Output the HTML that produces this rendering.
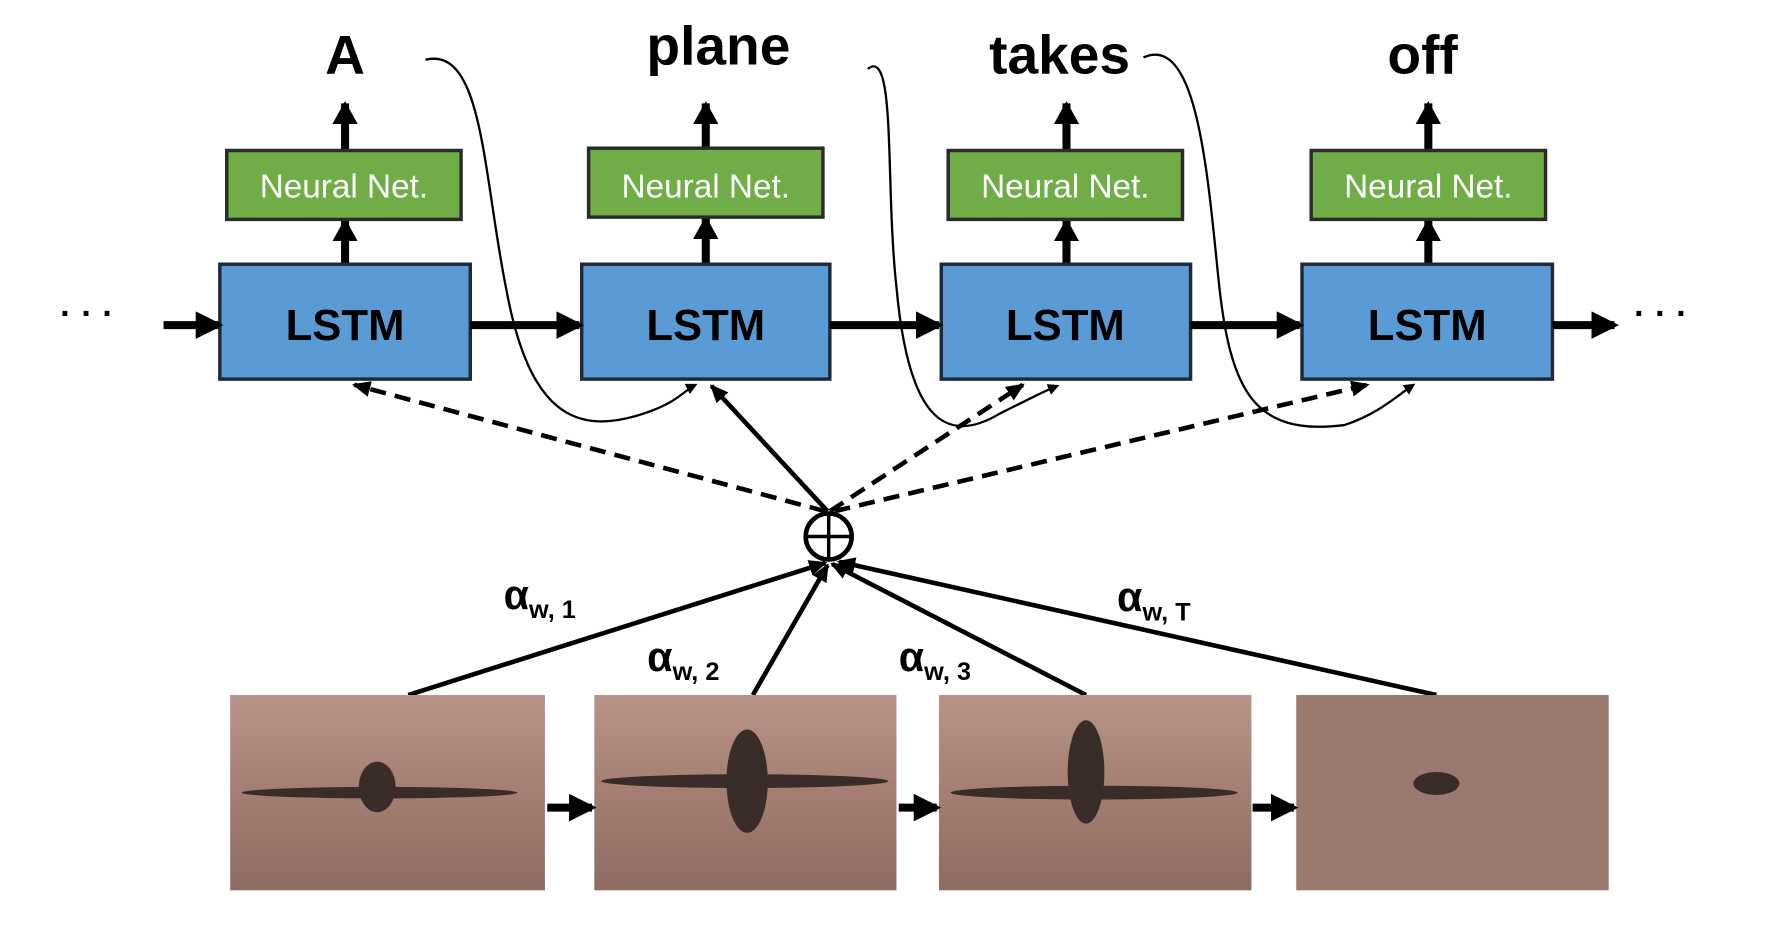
<!DOCTYPE html>
<html><head><meta charset="utf-8"><style>html,body{margin:0;padding:0;background:#fff;overflow:hidden}</style></head>
<body>
<svg width="1778" height="942" viewBox="0 0 1547 820" xmlns="http://www.w3.org/2000/svg" font-family="Liberation Sans, sans-serif">
<defs>
<marker id="ah" markerWidth="10" markerHeight="10" refX="8" refY="5" orient="auto" markerUnits="userSpaceOnUse"><path d="M0,0 L10,5 L0,10 z" fill="#000"/></marker>
<marker id="big" markerWidth="24" markerHeight="24" refX="20" refY="12" orient="auto" markerUnits="userSpaceOnUse"><path d="M0,0 L24,12 L0,24 z" fill="#000"/></marker>
<marker id="up" markerWidth="20" markerHeight="22" refX="18" refY="11" orient="auto" markerUnits="userSpaceOnUse"><path d="M0,0 L20,11 L0,22 z" fill="#000"/></marker>
<marker id="sm" markerWidth="16" markerHeight="14" refX="14" refY="7" orient="auto" markerUnits="userSpaceOnUse"><path d="M0,0 L16,7 L0,14 z" fill="#000"/></marker>
<linearGradient id="g1" x1="0" y1="0" x2="0" y2="1"><stop offset="0" stop-color="#b89488"/><stop offset="0.5" stop-color="#a47e72"/><stop offset="1" stop-color="#8e6c62"/></linearGradient>
</defs>
<g font-weight="bold" font-size="48" text-anchor="middle" fill="#000">
<text x="300" y="64">A</text><text x="625" y="56">plane</text><text x="922" y="64">takes</text><text x="1238" y="64">off</text>
</g>
<g stroke="#000" stroke-width="7" marker-end="url(#up)">
<line x1="300" y1="130" x2="300" y2="90"/><line x1="614" y1="128" x2="614" y2="90"/><line x1="928" y1="130" x2="928" y2="90"/><line x1="1243" y1="130" x2="1243" y2="90"/>
<line x1="300" y1="230" x2="300" y2="192"/><line x1="614" y1="230" x2="614" y2="190"/><line x1="928" y1="230" x2="928" y2="192"/><line x1="1243" y1="230" x2="1243" y2="192"/>
</g>
<g fill="#70ad47" stroke="#2b2b2b" stroke-width="3">
<rect x="197" y="131" width="204" height="60"/><rect x="512" y="129" width="204" height="60"/><rect x="825" y="131" width="204" height="60"/><rect x="1141" y="131" width="204" height="60"/>
</g>
<g fill="#fff" font-size="29" text-anchor="middle">
<text x="299" y="172">Neural Net.</text><text x="614" y="172">Neural Net.</text><text x="927" y="172">Neural Net.</text><text x="1243" y="172">Neural Net.</text>
</g>
<g fill="#5b9bd5" stroke="#1f2a38" stroke-width="3">
<rect x="191" y="230" width="218" height="100"/><rect x="506" y="230" width="216" height="100"/><rect x="819" y="230" width="217" height="100"/><rect x="1133" y="230" width="218" height="100"/>
</g>
<g fill="#000" font-size="38" font-weight="bold" text-anchor="middle">
<text x="300" y="296">LSTM</text><text x="614" y="296">LSTM</text><text x="927" y="296">LSTM</text><text x="1242" y="296">LSTM</text>
</g>
<g stroke="#000" stroke-width="7" marker-end="url(#big)">
<line x1="142" y1="283" x2="190" y2="283"/><line x1="409" y1="283" x2="504" y2="283"/><line x1="722" y1="283" x2="817" y2="283"/><line x1="1036" y1="283" x2="1131" y2="283"/><line x1="1351" y1="283" x2="1405" y2="283"/>
</g>
<g font-size="30" font-weight="bold"><text x="52" y="283">· · ·</text><text x="1422" y="283">· · ·</text></g>
<g fill="none" stroke="#000" stroke-width="2" marker-end="url(#ah)">
<path d="M370,52 C420,40 420,150 440,250 C460,360 500,380 560,360 C590,350 595,340 605,335"/>
<path d="M755,60 C780,40 770,160 780,250 C790,360 820,390 870,360 C900,345 910,340 920,336"/>
<path d="M995,50 C1040,30 1050,140 1060,240 C1070,340 1090,380 1170,370 C1200,360 1215,345 1230,335"/>
</g>
<g stroke="#000" stroke-width="4" stroke-dasharray="14,8" fill="none" marker-end="url(#sm)">
<line x1="718" y1="445" x2="308" y2="335"/><line x1="722" y1="445" x2="890" y2="335"/><line x1="726" y1="445" x2="1190" y2="335"/>
</g>
<line x1="720" y1="445" x2="619" y2="336" stroke="#000" stroke-width="4" marker-end="url(#sm)"/>
<circle cx="721" cy="467" r="20" fill="#fff" stroke="#000" stroke-width="4"/>
<line x1="701" y1="467" x2="741" y2="467" stroke="#000" stroke-width="3"/><line x1="721" y1="447" x2="721" y2="487" stroke="#000" stroke-width="3"/>
<g stroke="#000" stroke-width="4" marker-end="url(#sm)">
<line x1="355" y1="605" x2="718" y2="490"/><line x1="655" y1="605" x2="720" y2="492"/><line x1="945" y1="605" x2="724" y2="491"/><line x1="1250" y1="605" x2="730" y2="489"/>
</g>
<g font-weight="bold" fill="#000">
<text x="438" y="530" font-size="36">α<tspan font-size="22" dy="8">w, 1</tspan></text>
<text x="563" y="584" font-size="36">α<tspan font-size="22" dy="8">w, 2</tspan></text>
<text x="782" y="584" font-size="36">α<tspan font-size="22" dy="8">w, 3</tspan></text>
<text x="972" y="532" font-size="36">α<tspan font-size="22" dy="8">w, T</tspan></text>
</g>
<rect x="200" y="605" width="274" height="170" fill="url(#g1)"/>
<rect x="517" y="605" width="263" height="170" fill="url(#g1)"/>
<rect x="817" y="605" width="272" height="170" fill="url(#g1)"/>
<rect x="1128" y="605" width="272" height="170" fill="#9a7a70"/>
<g fill="#3a2c28">
<ellipse cx="330" cy="690" rx="120" ry="5"/><ellipse cx="328" cy="685" rx="16" ry="22"/><ellipse cx="648" cy="680" rx="125" ry="6"/><ellipse cx="650" cy="680" rx="18" ry="45"/>
<ellipse cx="952" cy="690" rx="125" ry="6"/><ellipse cx="945" cy="672" rx="16" ry="45"/><ellipse cx="1250" cy="682" rx="20" ry="10"/>
</g>
<g stroke="#000" stroke-width="7" marker-end="url(#big)">
<line x1="476" y1="703" x2="515" y2="703"/><line x1="782" y1="703" x2="815" y2="703"/><line x1="1090" y1="703" x2="1126" y2="703"/>
</g>
</svg>
</body></html>
